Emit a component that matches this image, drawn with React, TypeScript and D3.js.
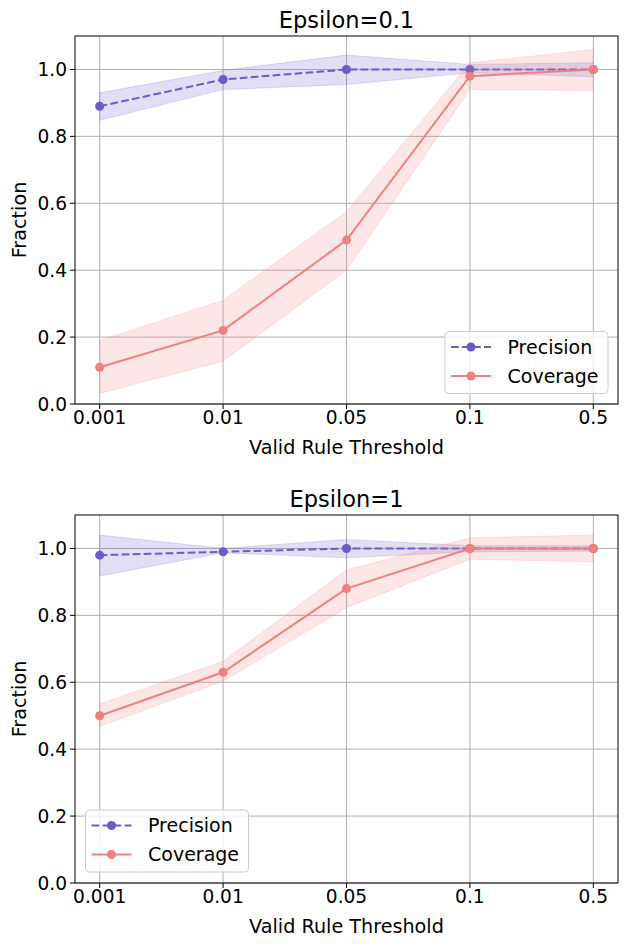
import React from 'react';
import * as d3 from 'd3';

const thresholds: string[] = ['0.001', '0.01', '0.05', '0.1', '0.5'];
const yTicks: number[] = [0, 0.2, 0.4, 0.6, 0.8, 1.0];

// Epsilon = 0.1
const precisionTop: number[] = [0.89, 0.97, 1.0, 1.0, 1.0];
const precisionTopLow: number[] = [0.848, 0.94, 0.955, 0.99, 0.978];
const precisionTopHigh: number[] = [0.93, 0.997, 1.043, 1.015, 1.02];
const coverageTop: number[] = [0.11, 0.22, 0.49, 0.98, 1.0];
const coverageTopLow: number[] = [0.032, 0.128, 0.4, 0.94, 0.937];
const coverageTopHigh: number[] = [0.19, 0.31, 0.575, 1.02, 1.06];

// Epsilon = 1
const precisionBottom: number[] = [0.98, 0.99, 1.0, 1.0, 1.0];
const precisionBottomLow: number[] = [0.918, 0.987, 0.972, 0.99, 0.992];
const precisionBottomHigh: number[] = [1.04, 1.0, 1.027, 1.008, 1.008];
const coverageBottom: number[] = [0.5, 0.63, 0.88, 1.0, 1.0];
const coverageBottomLow: number[] = [0.468, 0.603, 0.823, 0.968, 0.96];
const coverageBottomHigh: number[] = [0.535, 0.663, 0.936, 1.032, 1.04];

const PREC = '#6A5ACD';
const COV = '#F08080';
const FONT = 'DejaVu Sans, sans-serif';

interface Series {
  mean: number[];
  low: number[];
  high: number[];
}

interface PanelProps {
  title: string;
  top: number;
  precision: Series;
  coverage: Series;
  legend: { x: number; y: number };
}

const left = 75;
const right = 618;
const plotH = 368;

const Panel: React.FC<PanelProps> = ({ title, top, precision, coverage, legend }) => {
  const bottom = top + plotH;
  const n = thresholds.length;
  // matplotlib-style 5% margins on the categorical x axis
  const x = d3
    .scaleLinear()
    .domain([-0.2, n - 1 + 0.2])
    .range([left, right]);
  const y = d3.scaleLinear().domain([0, 1.1]).range([bottom, top]);

  const line = d3
    .line<number>()
    .x((_, i) => x(i))
    .y((d) => y(d));
  const area = (s: Series) =>
    d3
      .area<number>()
      .x((_, i) => x(i))
      .y0((_, i) => y(s.low[i]))
      .y1((_, i) => y(s.high[i]))(s.mean) || '';

  const clipId = `clip-${top}`;

  return (
    <g>
      <defs>
        <clipPath id={clipId}>
          <rect x={left} y={top} width={right - left} height={plotH} />
        </clipPath>
      </defs>
      <text x={(left + right) / 2} y={top - 8} textAnchor="middle" fontSize={22.5} fontFamily={FONT}>
        {title}
      </text>
      {/* grid */}
      {thresholds.map((_, i) => (
        <line key={'gx' + i} x1={x(i)} x2={x(i)} y1={top} y2={bottom} stroke="#b0b0b0" strokeWidth={1} />
      ))}
      {yTicks.map((t) => (
        <line key={'gy' + t} x1={left} x2={right} y1={y(t)} y2={y(t)} stroke="#b0b0b0" strokeWidth={1} />
      ))}
      <g clipPath={`url(#${clipId})`}>
        <path d={area(precision)} fill={PREC} fillOpacity={0.2} stroke={PREC} strokeOpacity={0.2} />
        <path
          d={line(precision.mean) || ''}
          fill="none"
          stroke={PREC}
          strokeWidth={2}
          strokeDasharray="7.7,3.3"
        />
        {precision.mean.map((v, i) => (
          <circle key={'pm' + i} cx={x(i)} cy={y(v)} r={4.5} fill={PREC} />
        ))}
        <path d={area(coverage)} fill={COV} fillOpacity={0.2} stroke={COV} strokeOpacity={0.2} />
        <path d={line(coverage.mean) || ''} fill="none" stroke={COV} strokeWidth={2} />
        {coverage.mean.map((v, i) => (
          <circle key={'cm' + i} cx={x(i)} cy={y(v)} r={4.5} fill={COV} />
        ))}
      </g>
      {/* frame */}
      <rect x={left} y={top} width={right - left} height={plotH} fill="none" stroke="#000" strokeWidth={1} />
      {/* x ticks */}
      {thresholds.map((t, i) => (
        <g key={'xt' + i}>
          <line x1={x(i)} x2={x(i)} y1={bottom} y2={bottom + 5} stroke="#000" />
          <text x={x(i)} y={bottom + 19.5} textAnchor="middle" fontSize={18.6} fontFamily={FONT}>
            {t}
          </text>
        </g>
      ))}
      {yTicks.map((t) => (
        <g key={'yt' + t}>
          <line x1={left - 5} x2={left} y1={y(t)} y2={y(t)} stroke="#000" />
          <text x={left - 8} y={y(t) + 6.7} textAnchor="end" fontSize={18.6} fontFamily={FONT}>
            {t.toFixed(1)}
          </text>
        </g>
      ))}
      <text x={(left + right) / 2} y={bottom + 50} textAnchor="middle" fontSize={19.2} fontFamily={FONT}>
        Valid Rule Threshold
      </text>
      <text
        transform={`translate(26, ${(top + bottom) / 2}) rotate(-90)`}
        textAnchor="middle"
        fontSize={19.2}
        fontFamily={FONT}
      >
        Fraction
      </text>
      {/* legend */}
      <g transform={`translate(${legend.x}, ${legend.y})`}>
        <rect x={0} y={0} width={163} height={62} rx={4} fill="#fff" fillOpacity={0.8} stroke="#cccccc" />
        <line x1={6} x2={46} y1={15.5} y2={15.5} stroke={PREC} strokeWidth={2} strokeDasharray="7.7,3.3" />
        <circle cx={26} cy={15.5} r={4.5} fill={PREC} />
        <text x={62.5} y={22.2} fontSize={19} fontFamily={FONT}>
          Precision
        </text>
        <line x1={6} x2={46} y1={44.5} y2={44.5} stroke={COV} strokeWidth={2} />
        <circle cx={26} cy={44.5} r={4.5} fill={COV} />
        <text x={62.5} y={51.2} fontSize={19} fontFamily={FONT}>
          Coverage
        </text>
      </g>
    </g>
  );
};

const App: React.FC = () => (
  <svg
    width={627}
    height={946}
    style={{ position: 'absolute', left: 0, top: 0, background: '#fff' }}
  >
    <rect width={627} height={946} fill="#fff" />
    <Panel
      title="Epsilon=0.1"
      top={36}
      precision={{ mean: precisionTop, low: precisionTopLow, high: precisionTopHigh }}
      coverage={{ mean: coverageTop, low: coverageTopLow, high: coverageTopHigh }}
      legend={{ x: 445, y: 331.5 }}
    />
    <Panel
      title="Epsilon=1"
      top={515}
      precision={{ mean: precisionBottom, low: precisionBottomLow, high: precisionBottomHigh }}
      coverage={{ mean: coverageBottom, low: coverageBottomLow, high: coverageBottomHigh }}
      legend={{ x: 85.5, y: 810 }}
    />
  </svg>
);

export default App;
